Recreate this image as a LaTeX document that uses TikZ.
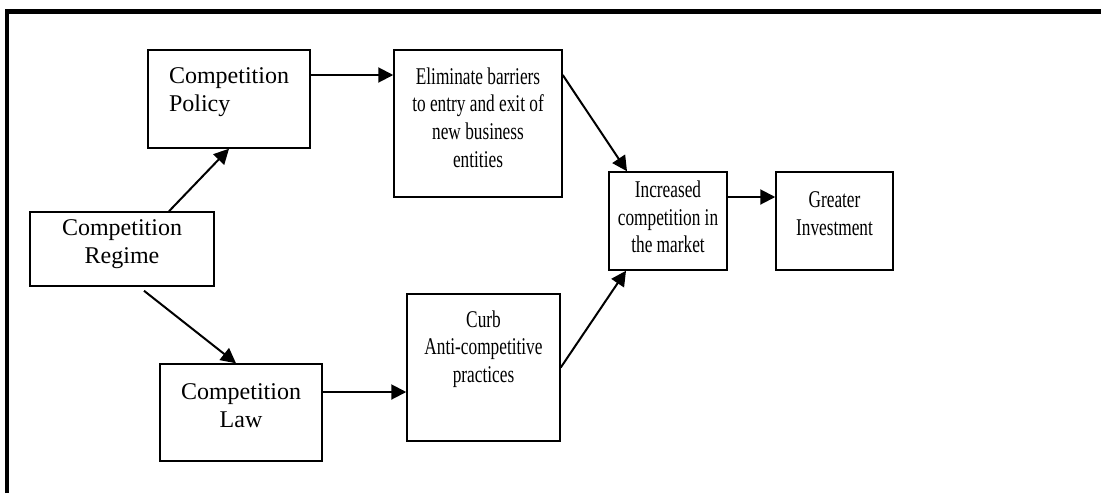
\documentclass[tikz,border=0pt]{standalone}
\usepackage{fontspec}
\setmainfont{Liberation Serif}
\newfontfamily\narrowserif[FakeStretch=0.72]{Liberation Serif}
\usetikzlibrary{arrows.meta}

\begin{document}
\begin{tikzpicture}[x=0.5pt,y=-0.5pt,
    box/.style={draw,line width=0.75pt,inner sep=0},
    txt/.style={align=center,inner sep=0,font=\fontsize{12}{13.8}\selectfont},
    narrow/.style={txt,font=\narrowserif\fontsize{12}{13.8}\selectfont},
    arr/.style={-{Triangle[length=7.5pt,width=7.5pt]},line width=1pt}]
    \useasboundingbox (0,0) rectangle (1101,493);
    \draw[line width=2.4pt] (7,493) -- (7,11.5) -- (1101,11.5);
    % left column
    \node[box,minimum width=81pt,minimum height=49pt,
          label={[txt,align=left,yshift=3.5pt]center:Competition\\Policy}] (pol) at (229,99) {};
    \node[box,minimum width=92pt,minimum height=37pt,
          label={[txt,yshift=2.5pt]center:Competition\\Regime}] (reg) at (122,249) {};
    \node[box,minimum width=81pt,minimum height=48.5pt,
          label={[txt,yshift=3.5pt]center:Competition\\Law}] (law) at (241,412.5) {};
    % middle column
    \node[box,minimum width=84pt,minimum height=73.5pt,
          label={[narrow,yshift=3pt]center:Eliminate barriers\\to entry and exit of\\new business\\entities}] (elim) at (478,123.5) {};
    \node[box,minimum width=76.5pt,minimum height=73.5pt,
          label={[narrow,yshift=9.25pt]center:Curb\\Anti-competitive\\practices}] (curb) at (483.5,367.5) {};
    % right column
    \node[box,minimum width=59pt,minimum height=49pt,
          label={[narrow,yshift=2pt]center:Increased\\competition in\\the market}] (incr) at (668,221) {};
    \node[box,minimum width=58.5pt,minimum height=49pt,
          label={[narrow,yshift=3.75pt]center:Greater\\Investment}] (inv) at (834.5,221) {};

    \coordinate (p1) at ([yshift=12pt]pol.east);
    \coordinate (l1) at ([yshift=10.25pt]law.east);
    \coordinate (e1) at ([yshift=24.25pt]elim.east);
    \coordinate (i1) at ([yshift=12pt]incr.east);
    \draw[arr] ([xshift=23.5pt]reg.north) -- (pol.south);
    \draw[arr] ([xshift=11pt,yshift=-2pt]reg.south) -- ([xshift=-2.5pt]law.north);
    \draw[arr] (p1) -- (p1 -| elim.west);
    \draw[arr] (l1) -- (l1 -| curb.west);
    \draw[arr] (e1) -- ([xshift=-20.5pt]incr.north);
    \draw[arr] (curb.east) -- ([xshift=-21pt]incr.south);
    \draw[arr] (i1) -- (i1 -| inv.west);
\end{tikzpicture}
\end{document}
